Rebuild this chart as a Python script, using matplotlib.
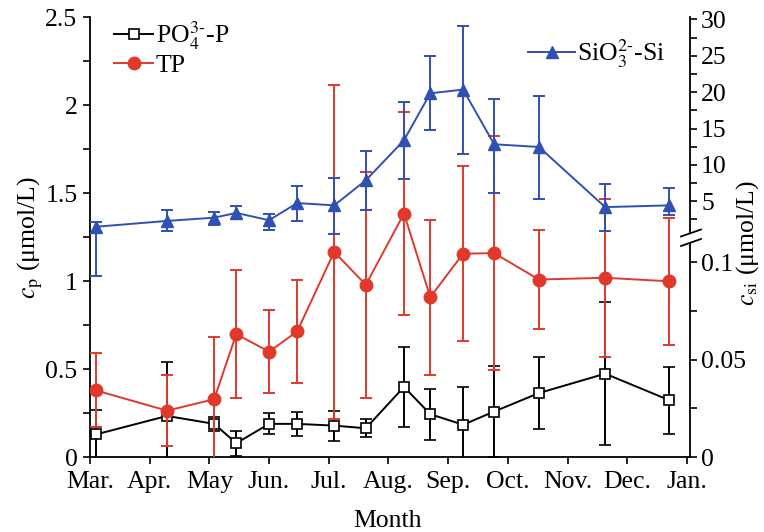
import matplotlib.pyplot as plt
from matplotlib.lines import Line2D
from matplotlib.patches import Rectangle
from matplotlib.ticker import FormatStrFormatter

plt.rcParams["font.family"] = ["Liberation Serif", "DejaVu Serif"]
plt.rcParams["mathtext.fontset"] = "stix"
plt.rcParams["font.size"] = 18.5

meses = ["Mar.", "Apr.", "May", "Jun.", "Jul.", "Aug.", "Sep.", "Oct.", "Nov.", "Dec.", "Jan."]
# sampling time, in months counted from Mar. 1
tempo = [0.10, 1.29, 2.08, 2.45, 3.00, 3.47, 4.09, 4.62, 5.26, 5.70, 6.25, 6.77, 7.52, 8.63, 9.70]

po4 = [0.13, 0.235, 0.19, 0.08, 0.19, 0.19, 0.18, 0.165, 0.40, 0.245, 0.185, 0.26, 0.365, 0.475, 0.325]
po4_sd = [0.14, 0.305, 0.04, 0.07, 0.06, 0.07, 0.085, 0.05, 0.225, 0.145, 0.215, 0.26, 0.205, 0.405, 0.19]

tp = [0.38, 0.265, 0.33, 0.70, 0.60, 0.715, 1.167, 0.98, 1.385, 0.91, 1.157, 1.16, 1.01, 1.02, 1.00]
tp_sd = [0.21, 0.20, 0.355, 0.365, 0.237, 0.29, 0.947, 0.643, 0.577, 0.44, 0.497, 0.663, 0.28, 0.448, 0.36]

sio3 = [1.5, 2.3, 2.75, 3.4, 2.4, 4.76, 4.44, 7.88, 13.4, 19.85, 20.36, 12.84, 12.47, 4.2, 4.44]
sio3_erro_baixo = [6.8, 1.4, 0.95, 0.8, 1.3, 2.46, 3.9, 4.12, 5.4, 5.09, 8.8, 6.65, 7.1, 3.3, 1.37]
sio3_erro_cima = [0.65, 1.46, 0.75, 0.9, 0.8, 2.3, 3.76, 4.02, 5.2, 5.1, 8.74, 6.16, 6.97, 3.23, 2.44]

azul = "#3050b4"
vermelho = "#e0392b"

W, H = 764, 532
fig = plt.figure(figsize=(7.64, 5.32), dpi=100)
ax = fig.add_axes([0.1178, 0.1404, 0.7853, 0.8271])

p1 = ax.errorbar(tempo, po4, yerr=po4_sd, color="black", marker="s", ms=7, mfc="white",
                 mec="black", mew=1.2, lw=1.4, elinewidth=1.4, capsize=4, capthick=1.4, zorder=2)
p2 = ax.errorbar(tempo, tp, yerr=tp_sd, color=vermelho, marker="o", ms=9, lw=1.4,
                 elinewidth=1.4, capsize=4, capthick=1.4, zorder=3)

ax.set_xlim(0, 10.05)
ax.set_ylim(0, 2.5)
ax.set_xticks(range(len(meses)))
ax.set_xticklabels(meses)
ax.set_yticks([0, 0.5, 1, 1.5, 2, 2.5])
ax.set_yticks([0.25, 0.75, 1.25, 1.75, 2.25], minor=True)
ax.yaxis.set_major_formatter(FormatStrFormatter("%g"))
ax.tick_params(axis="x", direction="out", length=5, width=1.2, pad=5)
ax.tick_params(axis="y", direction="out", length=5, width=1.2, pad=4)
ax.tick_params(which="minor", direction="out", length=5, width=1.2)
ax.spines["top"].set_visible(False)
ax.spines["right"].set_visible(False)
ax.spines["left"].set_linewidth(1.3)
ax.spines["bottom"].set_linewidth(1.3)

# upper part of the right axis (silicate)
ax2 = ax.twinx()
p3 = ax2.errorbar(tempo, sio3, yerr=[sio3_erro_baixo, sio3_erro_cima], color=azul, marker="^",
                  ms=9, lw=1.4, elinewidth=1.4, capsize=4, capthick=1.4, zorder=3)
ax2.set_ylim(-30.2, 30.3)
ax2.set_yticks([5, 10, 15, 20, 25, 30])
ax2.set_yticks([2.5, 7.5, 12.5, 17.5, 22.5, 27.5], minor=True)
ax2.tick_params(direction="out", length=5, width=1.2, pad=3)
ax2.tick_params(which="minor", direction="out", length=5, width=1.2)
for s in ["top", "left", "bottom"]:
    ax2.spines[s].set_visible(False)
ax2.spines["right"].set_linewidth(1.3)

# lower part of the right axis
ax3 = ax.twinx()
ax3.set_ylim(0, 0.2253)
ax3.set_yticks([0, 0.05, 0.1])
ax3.set_yticks([0.025, 0.075], minor=True)
ax3.yaxis.set_major_formatter(FormatStrFormatter("%g"))
ax3.tick_params(direction="out", length=5, width=1.2, pad=3)
ax3.tick_params(which="minor", direction="out", length=5, width=1.2)
for s in ["top", "left", "bottom", "right"]:
    ax3.spines[s].set_visible(False)

fig.text(388 / W, 1 - 521 / H, "Month", ha="center", va="center")
fig.text(30 / W, 1 - 238 / H, r"$c_\mathrm{p}$ (μmol/L)", rotation=90, ha="center", va="center")
fig.text(748 / W, 1 - 243 / H, r"$c_\mathrm{si}$ (μmol/L)", rotation=90, ha="center", va="center")

# axis break marks
fig.patches.append(Rectangle((686 / W, 1 - 243 / H), 10 / W, 9 / H, transform=fig.transFigure,
                             facecolor="white", edgecolor="none", zorder=10))
for y0 in [236.5, 246]:
    fig.lines.append(Line2D([681 / W, 701 / W], [1 - y0 / H, 1 - (y0 - 7) / H],
                            transform=fig.transFigure, color="black", lw=1.3, zorder=11))

ax.legend([p1[0], p2[0]], [r"PO$_4^{3\text{-}}$-P", "TP"], loc="upper left", bbox_to_anchor=(0.015, 1.03),
          frameon=False, handlelength=1.5, handletextpad=0.1, labelspacing=0.05, borderaxespad=0.2)
ax3.legend([p3[0]], [r"SiO$_3^{2\text{-}}$-Si"], loc="upper right", bbox_to_anchor=(0.985, 0.99),
           frameon=False, handlelength=1.8, handletextpad=0.1, borderaxespad=0.2)

plt.savefig("out.png", dpi=100)
